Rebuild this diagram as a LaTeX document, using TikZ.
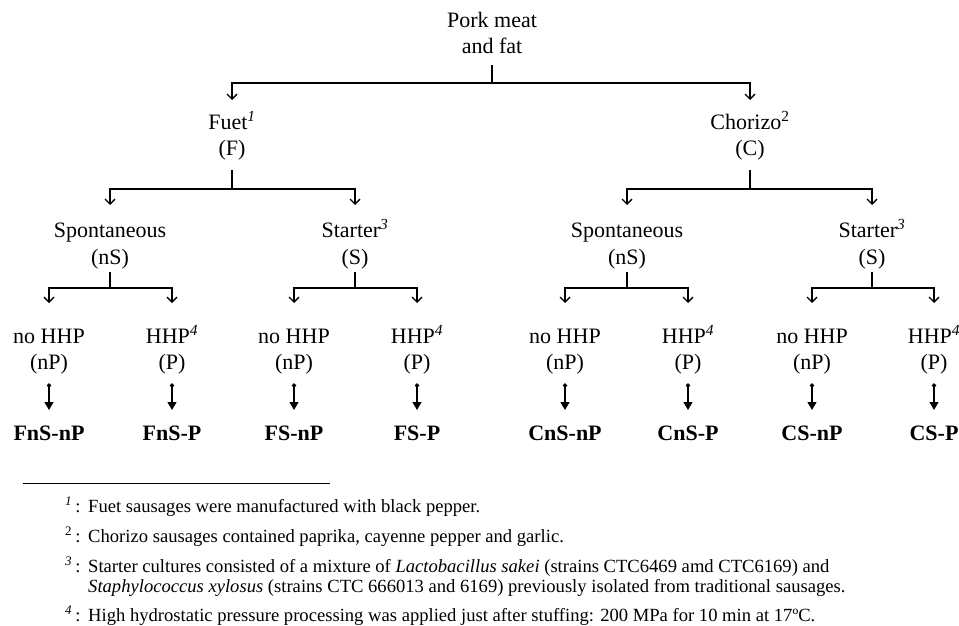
\documentclass[tikz,border=0pt]{standalone}
\usepackage{fontspec}
\setmainfont{Liberation Serif}
\usetikzlibrary{arrows.meta}
\begin{document}
\begin{tikzpicture}[x=1pt,y=-1pt,
  lbl/.style={anchor=base,inner sep=0pt,font=\fontsize{22}{26}\selectfont},
  res/.style={anchor=base,inner sep=0pt,font=\fontsize{22}{26}\selectfont\bfseries},
  fn/.style={anchor=base west,inner sep=0pt,font=\fontsize{18.6}{20.5}\selectfont},
  conn/.style={line width=1.3pt},
  branch/.style={conn,-{Straight Barb[length=5pt,width=10pt]}},
  result/.style={line width=1.3pt,{Diamond[length=5pt,width=4.5pt]}-{Triangle[length=8pt,width=9pt]}}
]
\useasboundingbox (0,0) rectangle (959,626);

% ---------- level 0 ----------
\node[lbl] (pork)  at (492,27.5) {Pork meat};
\node[lbl] (porkb) at (492,53.5) {and fat};
\coordinate (pork-out) at (492,65);
\coordinate (j0) at (492,83);

% ---------- level 1 ----------
\node[lbl] (fuet)  at (232,129)   {Fuet\textsuperscript{\textit{1}}};
\node[lbl] (fuetb) at (232,155.5) {(F)};
\coordinate (fuet-in)  at (232,100);
\coordinate (fuet-out) at (232,170);
\coordinate (jf) at (232,189);

\node[lbl] (chor)  at (750,129)   {Chorizo\textsuperscript{2}};
\node[lbl] (chorb) at (750,155.5) {(C)};
\coordinate (chor-in)  at (750,100);
\coordinate (chor-out) at (750,170);
\coordinate (jc) at (750,189);

% ---------- level 2 ----------
\foreach \p/\x/\t/\s in {fsp/110/Spontaneous/(nS), fst/355/Starter\textsuperscript{\textit{3}}/(S), csp/627/Spontaneous/(nS), cst/872/Starter\textsuperscript{\textit{3}}/(S)}{
  \node[lbl] (\p)  at (\x,237.5) {\t};
  \node[lbl] (\p b) at (\x,264) {\s};
  \coordinate (\p-in)  at (\x,205);
  \coordinate (\p-out) at (\x,272);
  \coordinate (\p-j)   at (\x,288);
}

% ---------- leaves and results ----------
\foreach \n/\x/\a/\b/\r in {1/49/no HHP/(nP)/FnS-nP, 2/172/HHP\textsuperscript{\textit{4}}/(P)/FnS-P, 3/294/no HHP/(nP)/FS-nP, 4/417/HHP\textsuperscript{\textit{4}}/(P)/FS-P, 5/565/no HHP/(nP)/CnS-nP, 6/688/HHP\textsuperscript{\textit{4}}/(P)/CnS-P, 7/812/no HHP/(nP)/CS-nP, 8/934/HHP\textsuperscript{\textit{4}}/(P)/CS-P}{
  \node[lbl] (leaf\n)  at (\x,343)   {\a};
  \node[lbl] (leaf\n b) at (\x,369.5) {\b};
  \node[res] (res\n)   at (\x,440)   {\r};
  \coordinate (leaf\n-in)  at (\x,303);
  \coordinate (leaf\n-out) at (\x,383);
  \coordinate (res\n-in)   at (\x,410);
  \draw[result] (leaf\n-out) -- (res\n-in);
}

% ---------- connectors ----------
\draw[conn] (pork-out) -- (j0);
\draw[branch] (j0) -| (fuet-in);
\draw[branch] (j0) -| (chor-in);

\draw[conn] (fuet-out) -- (jf);
\draw[branch] (jf) -| (fsp-in);
\draw[branch] (jf) -| (fst-in);
\draw[conn] (chor-out) -- (jc);
\draw[branch] (jc) -| (csp-in);
\draw[branch] (jc) -| (cst-in);

\foreach \p/\u/\v in {fsp/1/2, fst/3/4, csp/5/6, cst/7/8}{
  \draw[conn] (\p-out) -- (\p-j);
  \draw[branch] (\p-j) -| (leaf\u-in);
  \draw[branch] (\p-j) -| (leaf\v-in);
}

% ---------- footnotes ----------
\draw[line width=1pt] (23,483) -- (330,483);
\node[fn] (m1) at (65,512) {\textsuperscript{\textit{1}}\,:};
\node[fn] (t1) at (88,512) {Fuet sausages were manufactured with black pepper.};
\node[fn] (m2) at (65,542) {\textsuperscript{2}\,:};
\node[fn] (t2) at (88,542) {Chorizo sausages contained paprika, cayenne pepper and garlic.};
\node[fn] (m3) at (65,572) {\textsuperscript{\textit{3}}\,:};
\node[fn] (t3) at (88,572) {Starter cultures consisted of a mixture of \textit{Lactobacillus sakei} (strains CTC6469 amd CTC6169) and};
\node[fn] (t3b) at (88,592) {\textit{Staphylococcus xylosus} (strains CTC 666013 and 6169) previously isolated from traditional sausages.};
\node[fn] (m4) at (65,621) {\textsuperscript{\textit{4}}\,:};
\node[fn] (t4) at (88,621) {High hydrostatic pressure processing was applied just after stuffing: 200 MPa for 10 min at 17ºC.};
\end{tikzpicture}
\end{document}
